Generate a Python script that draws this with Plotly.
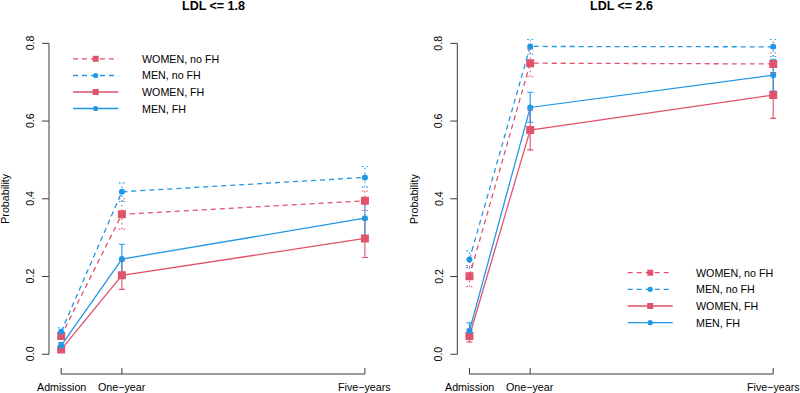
import plotly.graph_objects as go

# ---------------- data ----------------
time_years = [0, 1, 5]
x_labels = ["Admission", "One\u2212year", "Five\u2212years"]
y_ticks = [0.0, 0.2, 0.4, 0.6, 0.8]
y_tick_labels = ["0.0", "0.2", "0.4", "0.6", "0.8"]
panel_titles = ["LDL <= 1.8", "LDL <= 2.6"]
series_names = ["WOMEN, no FH", "MEN, no FH", "WOMEN, FH", "MEN, FH"]

# LDL <= 1.8
w_nofh_18 = [0.047, 0.360, 0.395]
w_nofh_18_lo = [0.038, 0.322, 0.370]
w_nofh_18_hi = [0.056, 0.400, 0.420]
m_nofh_18 = [0.058, 0.418, 0.455]
m_nofh_18_lo = [0.048, 0.393, 0.430]
m_nofh_18_hi = [0.068, 0.441, 0.483]
w_fh_18 = [0.012, 0.203, 0.298]
w_fh_18_lo = [0.006, 0.167, 0.249]
w_fh_18_hi = [0.020, 0.240, 0.347]
m_fh_18 = [0.022, 0.245, 0.350]
m_fh_18_lo = [0.014, 0.207, 0.302]
m_fh_18_hi = [0.030, 0.283, 0.397]

# LDL <= 2.6
w_nofh_26 = [0.201, 0.749, 0.747]
w_nofh_26_lo = [0.174, 0.714, 0.720]
w_nofh_26_hi = [0.228, 0.785, 0.775]
m_nofh_26 = [0.244, 0.792, 0.791]
m_nofh_26_lo = [0.223, 0.772, 0.766]
m_nofh_26_hi = [0.266, 0.810, 0.810]
w_fh_26 = [0.047, 0.577, 0.667]
w_fh_26_lo = [0.032, 0.526, 0.607]
w_fh_26_hi = [0.064, 0.628, 0.725]
m_fh_26 = [0.060, 0.635, 0.718]
m_fh_26_lo = [0.042, 0.597, 0.677]
m_fh_26_hi = [0.081, 0.674, 0.759]

# ---------------- styling ----------------
W, H = 800, 393
RED = "#DF536B"
BLUE = "#2297E6"
AXC = "#3a3a3a"
FONT = "Liberation Sans"
FS = 10.7
DASH = "5px,4px"
DOT = "1.5px,3px"
LW = 1.3
CAP = 0.05

styles = [
    dict(color=RED, dash=DASH, symbol="square", size=8, edash=DOT),
    dict(color=BLUE, dash=DASH, symbol="circle", size=6, edash=DOT),
    dict(color=RED, dash="solid", symbol="square", size=8, edash="solid"),
    dict(color=BLUE, dash="solid", symbol="circle", size=6, edash="solid"),
]

panels = [
    [(w_nofh_18, w_nofh_18_lo, w_nofh_18_hi), (m_nofh_18, m_nofh_18_lo, m_nofh_18_hi),
     (w_fh_18, w_fh_18_lo, w_fh_18_hi), (m_fh_18, m_fh_18_lo, m_fh_18_hi)],
    [(w_nofh_26, w_nofh_26_lo, w_nofh_26_hi), (m_nofh_26, m_nofh_26_lo, m_nofh_26_hi),
     (w_fh_26, w_fh_26_lo, w_fh_26_hi), (m_fh_26, m_fh_26_lo, m_fh_26_hi)],
]

# plot regions in pixels
plot_left = [49.0, 457.3]
unit = 60.75
XR = [-0.2, 5.2]
YR = [-0.032, 0.832]
top_px, bot_px = 30.9, 366.7

def px(x):
    return x / W

def py(y):
    return 1 - y / H

fig = go.Figure()
shapes = []
annotations = []

for p in range(2):
    xa = "x" if p == 0 else "x2"
    ya = "y" if p == 0 else "y2"
    # error bars
    for (vals, lo, hi), st in zip(panels[p], styles):
        xs, ys = [], []
        for t, l, h in zip(time_years, lo, hi):
            xs += [t, t, None, t - CAP, t + CAP, None, t - CAP, t + CAP, None]
            ys += [l, h, None, l, l, None, h, h, None]
        fig.add_trace(go.Scatter(x=xs, y=ys, mode="lines", xaxis=xa, yaxis=ya,
                                 line=dict(color=st["color"], width=1.1, dash=st["edash"]),
                                 showlegend=False, hoverinfo="skip"))
    # lines + markers
    for (vals, lo, hi), st, name in zip(panels[p], styles, series_names):
        fig.add_trace(go.Scatter(x=time_years, y=vals, mode="lines+markers", xaxis=xa, yaxis=ya,
                                 name=name, showlegend=False,
                                 line=dict(color=st["color"], width=LW, dash=st["dash"]),
                                 marker=dict(color=st["color"], symbol=st["symbol"], size=st["size"],
                                             line=dict(width=0))))

    left = plot_left[p]
    right = left + (XR[1] - XR[0]) * unit
    xdom = [left / W, right / W]
    ydom = [1 - bot_px / H, 1 - top_px / H]
    axis_common = dict(showgrid=False, zeroline=False, showline=False, showticklabels=False, ticks="")
    if p == 0:
        fig.update_layout(xaxis=dict(domain=xdom, range=XR, anchor="y", **axis_common),
                          yaxis=dict(domain=ydom, range=YR, anchor="x", **axis_common))
    else:
        fig.update_layout(xaxis2=dict(domain=xdom, range=XR, anchor="y2", **axis_common),
                          yaxis2=dict(domain=ydom, range=YR, anchor="x2", **axis_common))

    # y axis line & ticks
    shapes.append(dict(type="line", xref="paper", yref=ya, x0=px(left), x1=px(left),
                       y0=y_ticks[0], y1=y_ticks[-1], line=dict(color=AXC, width=1)))
    for yt, lab in zip(y_ticks, y_tick_labels):
        shapes.append(dict(type="line", xref="paper", yref=ya, x0=px(left - 7), x1=px(left),
                           y0=yt, y1=yt, line=dict(color=AXC, width=1)))
        annotations.append(dict(xref="paper", yref=ya, x=px(left - 19), y=yt, text=lab,
                                showarrow=False, textangle=-90, xanchor="center", yanchor="middle",
                                font=dict(family=FONT, size=FS, color="black")))
    # x axis line & ticks (ticks pointing up from line)
    axis_y = 374.0
    x0_px = left + (0 - XR[0]) * unit
    x5_px = left + (time_years[-1] - XR[0]) * unit
    shapes.append(dict(type="line", xref="paper", yref="paper", x0=px(x0_px), x1=px(x5_px),
                       y0=py(axis_y), y1=py(axis_y), line=dict(color=AXC, width=1)))
    for t, lab in zip(time_years, x_labels):
        tx = left + (t - XR[0]) * unit
        shapes.append(dict(type="line", xref="paper", yref="paper", x0=px(tx), x1=px(tx),
                           y0=py(axis_y), y1=py(axis_y - 6), line=dict(color=AXC, width=1)))
        annotations.append(dict(xref="paper", yref="paper", x=px(tx), y=py(386.7), text=lab,
                                showarrow=False, xanchor="center", yanchor="middle",
                                font=dict(family=FONT, size=FS, color="black")))
    # y label
    annotations.append(dict(xref="paper", yref="paper", x=px(left - 44), y=py((top_px + bot_px) / 2),
                            text="Probability", showarrow=False, textangle=-90,
                            xanchor="center", yanchor="middle",
                            font=dict(family=FONT, size=FS, color="black")))
    # title
    annotations.append(dict(xref="paper", yref="paper", x=px((left + right) / 2), y=py(6),
                            text="<b>" + panel_titles[p] + "</b>", showarrow=False,
                            xanchor="center", yanchor="middle",
                            font=dict(family=FONT, size=12.5, color="black")))

# manual legends (pixel layout)
legend_specs = [
    dict(x0=73.0, x1=118.3, xt=139.5, rows=[58.8, 75.5, 92.0, 108.5]),
    dict(x0=627.7, x1=672.7, xt=694.0, rows=[272.7, 289.3, 306.0, 322.7]),
]
for lg in legend_specs:
    xm = (lg["x0"] + lg["x1"]) / 2
    for st, name, ry in zip(styles, series_names, lg["rows"]):
        shapes.append(dict(type="line", xref="paper", yref="paper", x0=px(lg["x0"]), x1=px(lg["x1"]),
                           y0=py(ry), y1=py(ry),
                           line=dict(color=st["color"], width=LW, dash=st["dash"])))
        half = 3.0 if st["symbol"] == "square" else 2.6
        shapes.append(dict(type="rect" if st["symbol"] == "square" else "circle",
                           xref="paper", yref="paper",
                           x0=px(xm - half), x1=px(xm + half), y0=py(ry + half), y1=py(ry - half),
                           fillcolor=st["color"], line=dict(width=0)))
        annotations.append(dict(xref="paper", yref="paper", x=px(lg["xt"]), y=py(ry), text=name,
                                showarrow=False, xanchor="left", yanchor="middle",
                                font=dict(family=FONT, size=FS, color="black")))

fig.update_layout(width=W, height=H, margin=dict(l=0, r=0, t=0, b=0),
                  paper_bgcolor="white", plot_bgcolor="white",
                  shapes=shapes, annotations=annotations, showlegend=False)

fig.write_html("out.html", config={"displayModeBar": False},
               post_script="document.body.style.margin='0';document.body.style.overflow='hidden';")
